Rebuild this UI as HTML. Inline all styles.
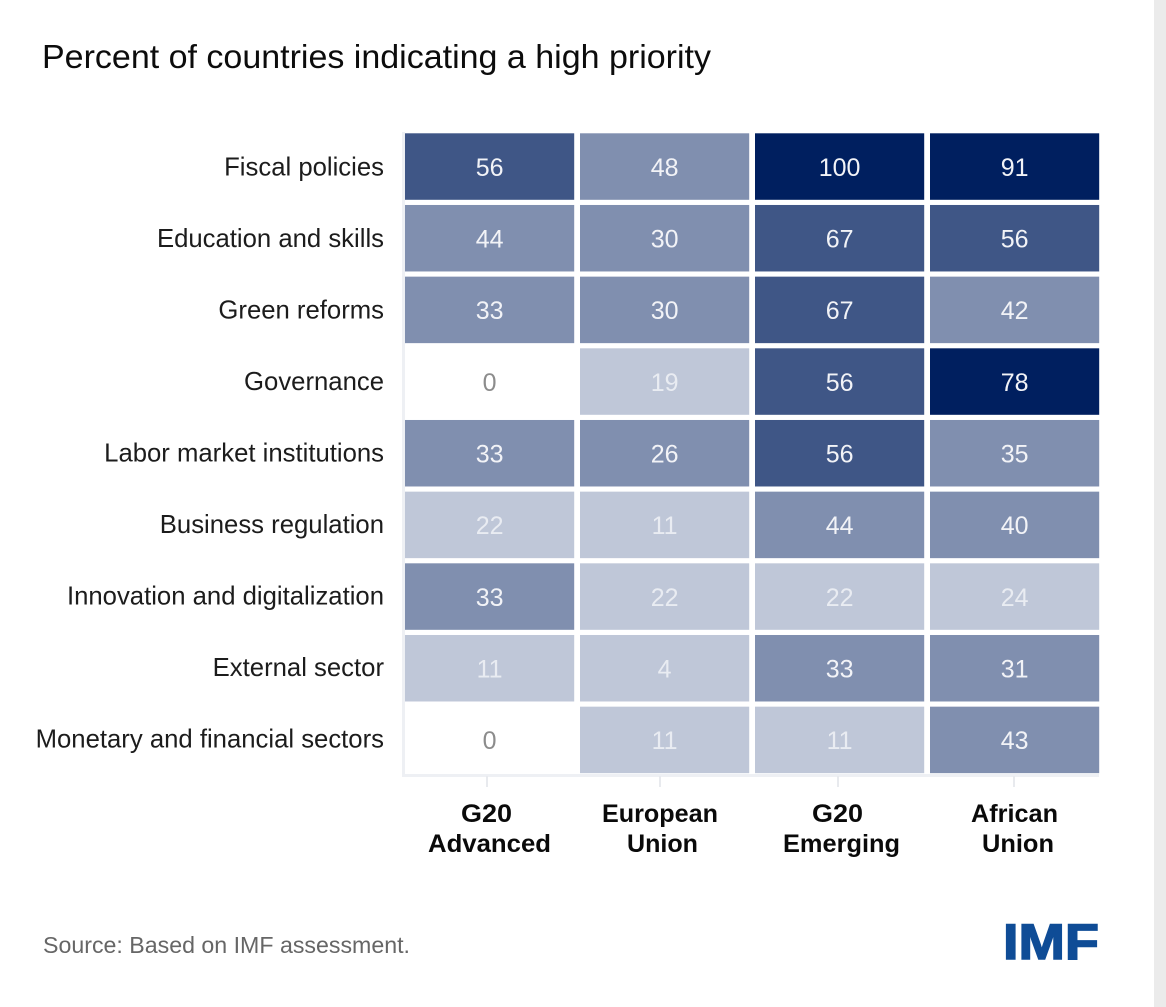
<!DOCTYPE html>
<html lang="en">
<head>
<meta charset="utf-8">
<title>Percent of countries indicating a high priority</title>
<style>
html,body{margin:0;padding:0;background:#fff;width:1166px;height:1007px;overflow:hidden}
svg{display:block}
text{font-family:"Liberation Sans",sans-serif}
</style>
</head>
<body>
<svg id="chart" width="1166" height="1007" viewBox="0 0 1166 1007" xmlns="http://www.w3.org/2000/svg">
  <rect x="0" y="0" width="1154" height="1007" fill="#ffffff"/>
  <rect x="1154" y="0" width="12" height="1007" fill="#ebebeb"/>
  <text x="42" y="68" font-size="33" fill="#0c0c0c" textLength="669" lengthAdjust="spacingAndGlyphs">Percent of countries indicating a high priority</text>

  <g stroke="#eef0f4" stroke-width="3" fill="none">
    <line x1="403.500" y1="132" x2="403.500" y2="776"/>
    <line x1="402" y1="775.500" x2="1099" y2="775.500"/>
  </g>
  <g id="cells"></g>
  <g id="row-labels"></g>

  <g stroke="#e8eaee" stroke-width="2">
    <line x1="487" y1="776" x2="487" y2="787"/>
    <line x1="660" y1="776" x2="660" y2="787"/>
    <line x1="838" y1="776" x2="838" y2="787"/>
    <line x1="1014" y1="776" x2="1014" y2="787"/>
  </g>
  <g font-size="25" font-weight="700" fill="#0a0a0a" text-anchor="middle">
    <text x="486.500" y="822" textLength="51" lengthAdjust="spacingAndGlyphs">G20</text>
    <text x="489.500" y="852" textLength="123" lengthAdjust="spacingAndGlyphs">Advanced</text>
    <text x="660" y="822" textLength="116" lengthAdjust="spacingAndGlyphs">European</text>
    <text x="662.500" y="852" textLength="71" lengthAdjust="spacingAndGlyphs">Union</text>
    <text x="837.500" y="822" textLength="51" lengthAdjust="spacingAndGlyphs">G20</text>
    <text x="841.500" y="852" textLength="117" lengthAdjust="spacingAndGlyphs">Emerging</text>
    <text x="1014.500" y="822" textLength="87" lengthAdjust="spacingAndGlyphs">African</text>
    <text x="1018" y="852" textLength="72" lengthAdjust="spacingAndGlyphs">Union</text>
  </g>

  <text x="43" y="953" font-size="23.500" fill="#666666" textLength="367" lengthAdjust="spacingAndGlyphs">Source: Based on IMF assessment.</text>
  <text x="1003" y="959" font-size="50" font-weight="700" fill="#0f4c96" stroke="#0f4c96" stroke-width="1.500" textLength="96" lengthAdjust="spacingAndGlyphs">IMF</text>
</svg>
<script>
var rowNames = ["Fiscal policies","Education and skills","Green reforms","Governance","Labor market institutions","Business regulation","Innovation and digitalization","External sector","Monetary and financial sectors"];
var columnNames = ["G20 Advanced","European Union","G20 Emerging","African Union"];
var g20Advanced = [56,44,33,0,33,22,33,11,0];
var europeanUnion = [48,30,30,19,26,11,22,4,11];
var g20Emerging = [100,67,67,56,56,44,22,33,11];
var africanUnion = [91,56,42,78,35,40,24,31,43];
var seriesValues = [g20Advanced,europeanUnion,g20Emerging,africanUnion];

var NS = "http://www.w3.org/2000/svg";
var cellsGroup = document.getElementById("cells");
var labelsGroup = document.getElementById("row-labels");

function xScale(col){ return 405 + col * 175; }
function yScale(row){ return 133.3 + row * 71.67; }
function labelY(row){ return 175.3 + row * 71.5; }
var cellW = 169.2, cellH = 66.5;

function colorScale(v){
  if (v === 0) return "#ffffff";
  if (v < 25) return "#bfc7d8";
  if (v < 50) return "#808faf";
  if (v < 75) return "#3f5686";
  return "#001f5f";
}
function textColor(v){
  if (v === 0) return "#8c8c8c";
  if (v < 25) return "#e9ecf2";
  return "#f2f3f7";
}
function slug(s){ return s.toLowerCase().replace(/[^a-z0-9]+/g,"-"); }

rowNames.forEach(function(rowName,r){
  var label = document.createElementNS(NS,"text");
  
  
  label.setAttribute("x", 384);
  label.setAttribute("y", labelY(r));
  label.setAttribute("text-anchor", "end");
  label.setAttribute("font-size", "25.7");
  label.setAttribute("fill", "#1c1c1c");
  label.textContent = rowName;
  labelsGroup.appendChild(label);

  columnNames.forEach(function(colName,c){
    var v = seriesValues[c][r];
    var rect = document.createElementNS(NS,"rect");
    
    
    rect.setAttribute("x", xScale(c));
    rect.setAttribute("y", yScale(r));
    rect.setAttribute("width", cellW);
    rect.setAttribute("height", cellH);
    rect.setAttribute("fill", colorScale(v));
    cellsGroup.appendChild(rect);

    var t = document.createElementNS(NS,"text");
    
    
    t.setAttribute("x", xScale(c) + cellW / 2);
    t.setAttribute("y", yScale(r) + 42.5);
    t.setAttribute("text-anchor", "middle");
    t.setAttribute("font-size", "25");
    t.setAttribute("fill", textColor(v));
    t.textContent = v;
    cellsGroup.appendChild(t);
  });
});
</script>
</body>
</html>
